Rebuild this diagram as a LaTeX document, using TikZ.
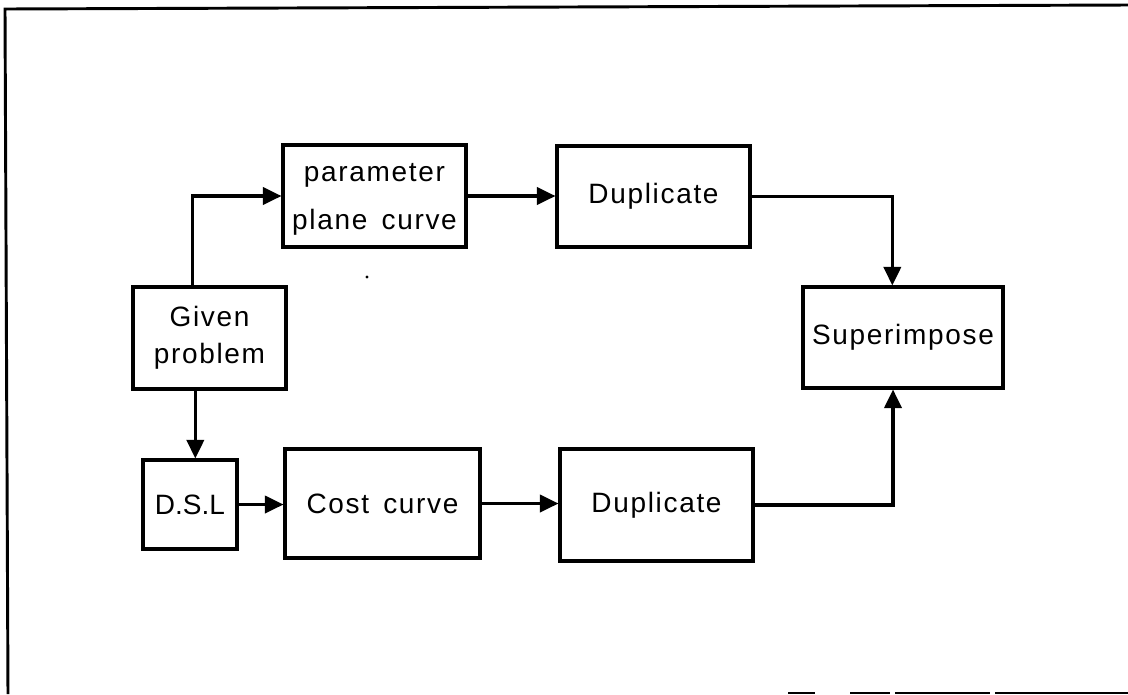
\documentclass[tikz,border=0pt]{standalone}
\usepackage{fontspec}
\setmainfont{Liberation Sans}[LetterSpace=6, WordSpace=1.5]
\usetikzlibrary{arrows.meta}
\tikzset{
  box/.style={draw, line width=2.3pt, rectangle, inner sep=0pt, align=center,
    font=\fontsize{21}{28}\selectfont},
  arr/.style={line width=2.3pt, -{Triangle[length=14pt,width=13pt]}},
  frame/.style={line width=2.2pt},
}
\begin{document}
\begin{tikzpicture}[x=0.75pt, y=-0.75pt]
\useasboundingbox (0,0) rectangle (1128,694);
% frame
\draw[frame] (8,694) -- (5,9) -- (1128,5);
\draw[frame] (788,693) -- (815,693);
\draw[frame] (850,693) -- (890,693);
\draw[frame] (895,693) -- (990,693);
\draw[frame] (995,693) -- (1128,693);
% boxes
\node[box, minimum width=137.25pt, minimum height=76.5pt,
  font=\fontsize{21}{36}\selectfont, text depth=-3pt] (param) at (374.5,196) {parameter\\plane curve};
\node[box, minimum width=144.75pt, minimum height=75.75pt] (dupa) at (653.5,196.5) {Duplicate};
\node[box, minimum width=114.75pt, minimum height=76.5pt] (given) at (209.5,338) {Given\\problem};
\node[box, minimum width=70.5pt, minimum height=66.75pt] (dsl) at (190,504.5) {\addfontfeature{LetterSpace=0}D.S.L};
\node[box, minimum width=146.25pt, minimum height=81.75pt] (cost) at (382.5,503.5) {Cost curve};
\node[box, minimum width=144.75pt, minimum height=84pt] (dupb) at (656.5,505) {Duplicate};
\node[box, minimum width=150pt, minimum height=75.75pt] (super) at (903,337.5) {Superimpose};
% stray dot
\fill (367,277) circle (1.2pt);
% connectors
\draw[arr] ([xshift=-13pt]given.north) |- (param.west);
\draw[arr] ([xshift=4pt]dsl.north |- given.south) -- ([xshift=4pt]dsl.north);
\draw[arr] (dsl.east) -- (dsl.east -| cost.west);
\draw[arr] (cost.east) -- (cost.east -| dupb.west);
\draw[arr] (param.east) -- (param.east -| dupa.west);
\draw[arr] (dupa.east) -| ([xshift=-8pt]super.north);
\draw[arr] (dupb.east) -| ([xshift=-7.5pt]super.south);
\end{tikzpicture}
\end{document}
